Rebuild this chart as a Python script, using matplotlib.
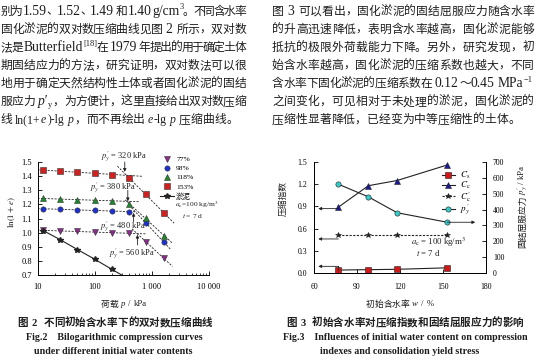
import re
import numpy as np
import matplotlib as mpl
mpl.use('Agg')
from matplotlib import pyplot as plt
from matplotlib.font_manager import FontProperties

W, H = 536, 364
SERIF = 'Liberation Serif'
CJK = 'Noto Sans CJK SC'
INK = '#1e1e1e'

# ---- Fig.2: bilogarithmic compression curves, ln(1+e) vs load (kPa)
loads = [12.5, 25, 50, 100, 200, 400, 800, 1600]
lnv_77 = [1.016, 1.012, 1.008, 1.004, 1.000, 0.995, 0.933, 0.820]
lnv_98 = [1.167, 1.165, 1.162, 1.160, 1.155, 1.145, 1.065, 0.935]
lnv_118 = [1.242, 1.237, 1.233, 1.230, 1.225, 1.200, 1.107, 0.977]
lnv_153 = [1.442, 1.435, 1.427, 1.423, 1.410, 1.385, 1.270, 1.140]
mud_loads = [12.5, 25, 50, 100, 200, 400]
lnv_mud = [1.015, 0.950, 0.880, 0.812, 0.740, 0.670]
water_labels = ['77%', '98%', '118%', '153%']
yield_kpa = [560, 480, 380, 320]

# ---- Fig.3: compression indexes and yield stress vs initial water content
water = [77, 98, 118, 153]
Cs = [0.040, 0.045, 0.050, 0.070]
Cc = [0.89, 1.18, 1.25, 1.46]
Cc_post = [0.52, 0.52, 0.52, 0.52]
py = [560, 480, 380, 320]

left_text = [
    '别为 1.59、1.52、1.49 和 1.40 g/cm^{3}。不同含水率',
    '固化淤泥的双对数压缩曲线见图 2 所示，双对数',
    '法是 Butterfield^{[18]}在 1979 年提出的用于确定土体',
    '期固结应力的方法，研究证明，双对数法可以很',
    '地用于确定天然结构性土体或者固化淤泥的固结',
    '服应力 *p′*_{y}，为方便计，这里直接给出双对数压缩',
    '线 ln(1+*e*)-lg *p*，而不再绘出 *e*-lg *p* 压缩曲线。',
]
right_text = [
    '图 3 可以看出，固化淤泥的固结屈服应力随含水率',
    '的升高迅速降低，表明含水率越高，固化淤泥能够',
    '抵抗的极限外荷载能力下降。另外，研究发现，初',
    '始含水率越高，固化淤泥的压缩系数也越大，不同',
    '含水率下固化淤泥的压缩系数在 0.12～0.45 MPa^{−1}',
    '之间变化，可见相对于未处理的淤泥，固化淤泥的',
    '压缩性显著降低，已经变为中等压缩性的土体。',
]

plt.rcParams['font.family'] = [SERIF, CJK]
plt.rcParams['mathtext.fontset'] = 'stix'
plt.rcParams['font.size'] = 6

fig = plt.figure(figsize=(W / 100, H / 100), dpi=100)
renderer = fig.canvas.get_renderer()


def tokenize(line):
    toks = []
    for m in re.finditer(r'\^\{([^}]*)\}|_\{([^}]*)\}|\*([^*]*)\*|(.)', line):
        if m.group(1) is not None:
            toks.append((m.group(1), 'sup'))
        elif m.group(2) is not None:
            toks.append((m.group(2), 'sub'))
        elif m.group(3) is not None:
            toks.append((m.group(3), 'it'))
        else:
            c = m.group(4)
            if c == ' ':
                toks.append((' ', 'sp'))
            elif ord(c) > 0x2000:
                toks.append((c, 'cjk'))
            elif toks and toks[-1][1] == 'lat':
                toks[-1] = (toks[-1][0] + c, 'lat')
            else:
                toks.append((c, 'lat'))
    return toks


def put_line(line, x, y, size, width=None, ha='left', bold=False, color=INK,
             lat_scale=1.0, space=0.28):
    # y is the baseline in pixels from the top
    em = size * 100 / 72
    lsize = size * lat_scale
    toks = tokenize(line)
    arts, ws, dys = [], [], []
    for txt, kind in toks:
        if kind == 'sp':
            arts.append(None)
            ws.append(space * em)
            dys.append(0)
            continue
        kw = dict(color=color, va='baseline', ha='left',
                  weight='bold' if bold else 'normal')
        if kind == 'cjk':
            kw.update(family=CJK, fontsize=size)
        else:
            kw.update(family=SERIF, fontsize=lsize)
        if kind == 'it':
            kw['style'] = 'italic'
        if kind in ('sup', 'sub'):
            kw['fontsize'] = lsize * 0.62
        t = fig.text(0, 0, txt, **kw)
        arts.append(t)
        if kind == 'cjk':
            ws.append(em)
        else:
            ws.append(t.get_window_extent(renderer).width + 0.08 * em)
        dys.append({'sup': 0.45 * em, 'sub': -0.18 * em}.get(kind, 0))
    gap = 0
    if width is not None:
        gap = (width - sum(ws)) / (len(ws) - 1)
    total = sum(ws) + gap * (len(ws) - 1)
    if ha == 'center':
        x -= total / 2
    for a, w, dy in zip(arts, ws, dys):
        if a is not None:
            a.set_position((x / W, 1 - (y - dy) / H))
        x += w + gap


# ---- body text, two columns (last line of each paragraph left ragged)
for i, line in enumerate(left_text):
    last = i == len(left_text) - 1
    put_line(line, 0.5, 10.3 + 18.1 * i + 4.4, 8.5,
             width=None if last else 245.5, lat_scale=1.0 if last else 1.15,
             space=0.2 if last else 0.28)
for i, line in enumerate(right_text):
    last = i == len(right_text) - 1
    put_line(line, 272, 10.3 + 18.1 * i + 4.4, 8.5,
             width=None if last else 262, lat_scale=1.15)

# ---- Fig.2
ax1 = fig.add_axes([37.5 / W, 1 - 275 / H, 171.5 / W, 113 / H])
ax1.set_xscale('log')
ax1.set_xlim(10, 10000)
ax1.set_ylim(0.7, 1.5)
for s in ('top', 'right'):
    ax1.spines[s].set_visible(False)
for s in ('left', 'bottom'):
    ax1.spines[s].set_linewidth(0.7)
ax1.set_xticks([10, 100, 1000, 10000])
ax1.set_xticklabels(['10', '100', '1 000', '10 000'])
ax1.set_yticks(np.round(np.arange(0.7, 1.51, 0.1), 1))
ax1.set_yticklabels(['%.1f' % v for v in np.arange(0.7, 1.51, 0.1)])
ax1.tick_params(which='major', direction='in', length=3, width=0.6, labelsize=6, pad=4)
ax1.tick_params(which='minor', direction='in', length=1.6, width=0.5)
ax1.tick_params(axis='x', pad=6)

series = [lnv_77, lnv_98, lnv_118, lnv_153]
markers = ['v', 'o', '^', 's']
colors = ['#8a2a8c', '#1c2fd0', '#1f8a2a', '#d02020']
flat_end = [800, 540, 600, 700]
steep_span = [(450, 2300), (400, 2150), (340, 2300), (250, 2450)]
lp = np.log10(loads)
for vals, mk, col, lab, yk, fe, ss in zip(series, markers, colors, water_labels,
                                          yield_kpa, flat_end, steep_span):
    v = np.array(vals)
    pre = np.array(loads) < yk
    a = np.polyfit(lp[pre], v[pre], 1)
    b = np.polyfit(lp[~pre], v[~pre], 1)
    xs = np.array([10, fe])
    ax1.plot(xs, np.polyval(a, np.log10(xs)), color='#222', lw=0.6, ls=(0, (2.5, 1.6)))
    xs = np.array(ss)
    ax1.plot(xs, np.polyval(b, np.log10(xs)), color='#222', lw=0.6, ls=(0, (2.5, 1.6)))
    ax1.plot(loads, vals, ls='none', marker=mk, ms=3.8, mfc=col, mec='#333',
             mew=0.4, label=lab, zorder=3)
ax1.plot(mud_loads, lnv_mud, '-', marker='*', color='#222', lw=0.8, ms=4.2,
         label='淤泥', zorder=3)

leg = ax1.legend(loc='upper left', bbox_to_anchor=(160 / W, 1 - 156 / H),
                 bbox_transform=fig.transFigure, frameon=False,
                 prop=FontProperties(family=[SERIF, CJK], size=5.4),
                 handlelength=1.8, handletextpad=0.35, labelspacing=0.38,
                 borderpad=0, borderaxespad=0, numpoints=1)

ax1.text(175 / W, 1 - 205 / H, r'$a_\mathrm{c}$=100 kg/m$^3$', transform=fig.transFigure,
         fontsize=5.4, va='center', ha='left', color=INK)
ax1.text(193 / W, 1 - 216.5 / H, r'$t$ = 7 d', transform=fig.transFigure,
         fontsize=5.4, va='center', ha='center', color=INK)

# yield stress callouts
arrow_kw = dict(arrowstyle='-|>', color='#222', lw=0.6, mutation_scale=4.5,
                shrinkA=0, shrinkB=0)
callouts = [  # (arrow tail, arrow tip, text x, text y)
    ((1.500, 1.430), 326, 1.540),
    ((1.300, 1.222), 209, 1.314),
    ((1.078, 1.140), 307, 1.038),
    ((0.912, 0.985), 457, 0.849),
]
for yk, ((y0, y1), tx, ty) in zip(yield_kpa[::-1], callouts):
    xa = yk * 1.05 if yk == 320 else yk
    ax1.annotate('', xy=(xa, y1), xytext=(xa, y0), arrowprops=arrow_kw,
                 annotation_clip=False)
    ax1.text(tx, ty, r"$p_y'$ = %d kPa" % yk, fontsize=6, ha='center', va='center',
             color=INK, clip_on=False)

fig.text(12 / W, 1 - 212 / H, r'$\mathrm{ln}(1+e)$', rotation=90, fontsize=6.5,
         ha='center', va='center', color=INK)
put_line('荷载 *p* / kPa', 124, 304 + 2.5, 6.3, ha='center')

# ---- Fig.3
ax3 = fig.add_axes([314 / W, 1 - 273 / H, 172 / W, 111 / H])
ax4 = ax3.twinx()
ax3.set_xlim(60, 180)
ax3.set_ylim(0, 1.5)
ax4.set_ylim(0, 700)
for ax in (ax3, ax4):
    ax.spines['top'].set_visible(False)
    for s in ('left', 'right', 'bottom'):
        ax.spines[s].set_linewidth(0.7)
ax3.set_xticks([60, 90, 120, 150, 180])
ax3.set_yticks(np.round(np.arange(0, 1.51, 0.3), 1))
ax3.set_yticklabels(['%.1f' % v for v in np.arange(0, 1.51, 0.3)])
ax4.set_yticks(np.arange(0, 701, 100))
ax3.tick_params(direction='in', length=3, width=0.6, labelsize=5.6, pad=5)
ax3.tick_params(axis='x', pad=7)
ax4.tick_params(direction='in', length=3, width=0.6, labelsize=5.6, pad=5)

line_kw = dict(color='#222', lw=0.8, ms=3.8, mew=0.4, mec='#222')
h_cs, = ax3.plot(water, Cs, '-', marker='s', mfc='#d01818', **line_kw)
h_cc, = ax3.plot(water, Cc, '-', marker='^', mfc='#1a1a9a', **line_kw)
h_cc2, = ax3.plot(water, Cc_post, marker='*', mfc='#222', ls=(0, (2, 1.3)),
                  color='#222', lw=0.8, ms=4.2, mew=0.4, mec='#222')
h_py, = ax4.plot(water, py, '-', marker='o', mfc='#38c8c8', **line_kw)

ax4.legend([h_cs, h_cc, h_cc2, h_py],
           [r'$C_\mathrm{s}$', r'$C_\mathrm{c}$', r"$C_\mathrm{c}'$", r"$p_y'$"],
           loc='upper left', bbox_to_anchor=(441.7 / W, 1 - 170 / H),
           bbox_transform=fig.transFigure, frameon=False, fontsize=6.6,
           handlelength=1.45, handletextpad=0.5, labelspacing=-0.12,
           borderpad=0, borderaxespad=0, numpoints=1)

# pointers to the axis each curve belongs to
ax3.plot([77, 77], [Cs[0], 0.09], color='#222', lw=0.7)
for yv in (0.09, 0.46, 0.87):
    ax3.annotate('', xy=(63, yv), xytext=(77, yv), arrowprops=arrow_kw)
ax4.annotate('', xy=(172.5, py[-1]), xytext=(153, py[-1]), arrowprops=arrow_kw)

fig.text(411 / W, 1 - 242 / H, r'$a_\mathrm{c}$ = 100 kg/m$^3$', fontsize=6.3,
         va='center', ha='left', color=INK)
fig.text(416 / W, 1 - 252.5 / H, r'$t$ = 7 d', fontsize=6.3, va='center',
         ha='left', color=INK)

fig.text(283 / W, 1 - 199 / H, '压缩指数', family=CJK, rotation=90, fontsize=6.3,
         ha='center', va='center', color=INK)
fig.text(523 / W, 1 - 195 / H, '固结屈服应力', family=CJK, rotation=90,
         fontsize=6.3, ha='center', va='top', color=INK)
fig.text(523 / W, 1 - 195 / H, r"$p_y'$ / kPa", rotation=90, fontsize=6.5,
         ha='center', va='bottom', color=INK)
put_line('初始含水率 *w* / %', 400, 304 + 2.5, 6.3, ha='center')

# ---- captions
put_line('图 2  不同初始含水率下的双对数压缩曲线', 115, 322.5 + 3.5, 7.6,
         ha='center', bold=True)
put_line('图 3  初始含水率对压缩指数和固结屈服应力的影响', 405, 322.5 + 3.5, 7.6,
         ha='center', bold=True)
cap_kw = dict(family=SERIF, weight='bold', fontsize=7.2, ha='center', va='center',
              color=INK)
fig.text(114 / W, 1 - 338 / H, 'Fig.2    Bilogarithmic compression curves', **cap_kw)
fig.text(113 / W, 1 - 352 / H, 'under different initial water contents', **cap_kw)
fig.text(405 / W, 1 - 338 / H,
         'Fig.3    Influences of initial water content on compression', **cap_kw)
fig.text(400 / W, 1 - 352 / H, 'indexes and consolidation yield stress', **cap_kw)

fig.savefig('out.png', dpi=100, facecolor='white')
